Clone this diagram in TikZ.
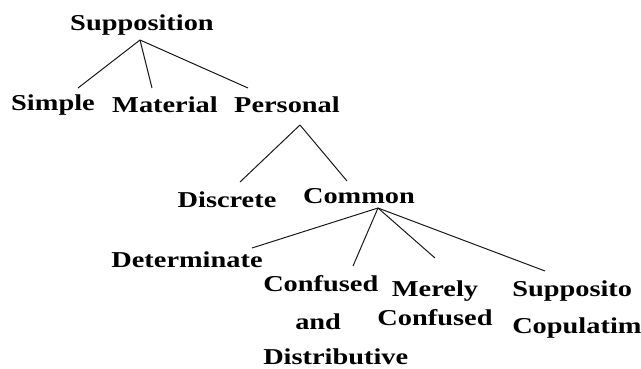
\documentclass[tikz,border=0pt]{standalone}
\usepackage{fontspec}
\setmainfont{Liberation Serif}
\usepackage{tikz}

\begin{document}
\begin{tikzpicture}[
    x=1pt, y=-1pt,
    term/.style={inner sep=0pt, anchor=base, xscale=1.25, font=\fontsize{22.7}{27.2}\selectfont\bfseries},
    branch/.style={line width=1pt, black!90}
]
\useasboundingbox (0,0) rectangle (641,368);

% top level
\node[term] (supp) at (142,30) {Supposition};
\node[term] (simple) at (53,110) {Simple};
\node[term] (material) at (165,112) {Material};
\node[term] (personal) at (287,112) {Personal};

% personal supposition
\node[term] (discrete) at (227,207) {Discrete};
\node[term] (common) at (359,203) {Common};

% common supposition
\node[term] (determinate) at (187,267) {Determinate};
\node[term, anchor=base west, align=left] (confdist) at (263,364) {Confused\\[11pt]\hspace*{25.6pt}and\\[7pt]Distributive};
\node[term, align=center] (merely) at (435,325) {Merely\\[1pt]Confused};
\node[term, anchor=base west, align=left] (copulatim) at (512,333) {Supposito\\[9pt]Copulatim};

\draw[branch] ([shift={(-2,10)}]supp.base) -- ([shift={(25,-22)}]simple.base);
\draw[branch] ([shift={(-2,10)}]supp.base) -- ([shift={(-13,-24)}]material.base);
\draw[branch] ([shift={(-2,10)}]supp.base) -- ([shift={(-39,-24)}]personal.base);

\draw[branch] ([shift={(13,13)}]personal.base) -- ([shift={(13,-25)}]discrete.base);
\draw[branch] ([shift={(13,13)}]personal.base) -- ([shift={(-12,-22)}]common.base);

\draw[branch] ([shift={(19,5)}]common.base) -- ([shift={(65,-19)}]determinate.base);
\draw[branch] ([shift={(19,5)}]common.base) -- ([shift={(90,-98)}]confdist.base west);
\draw[branch] ([shift={(19,5)}]common.base) -- ([shift={(0,-67)}]merely.base);
\draw[branch] ([shift={(19,5)}]common.base) -- ([shift={(33,-62)}]copulatim.base west);

\end{tikzpicture}
\end{document}
